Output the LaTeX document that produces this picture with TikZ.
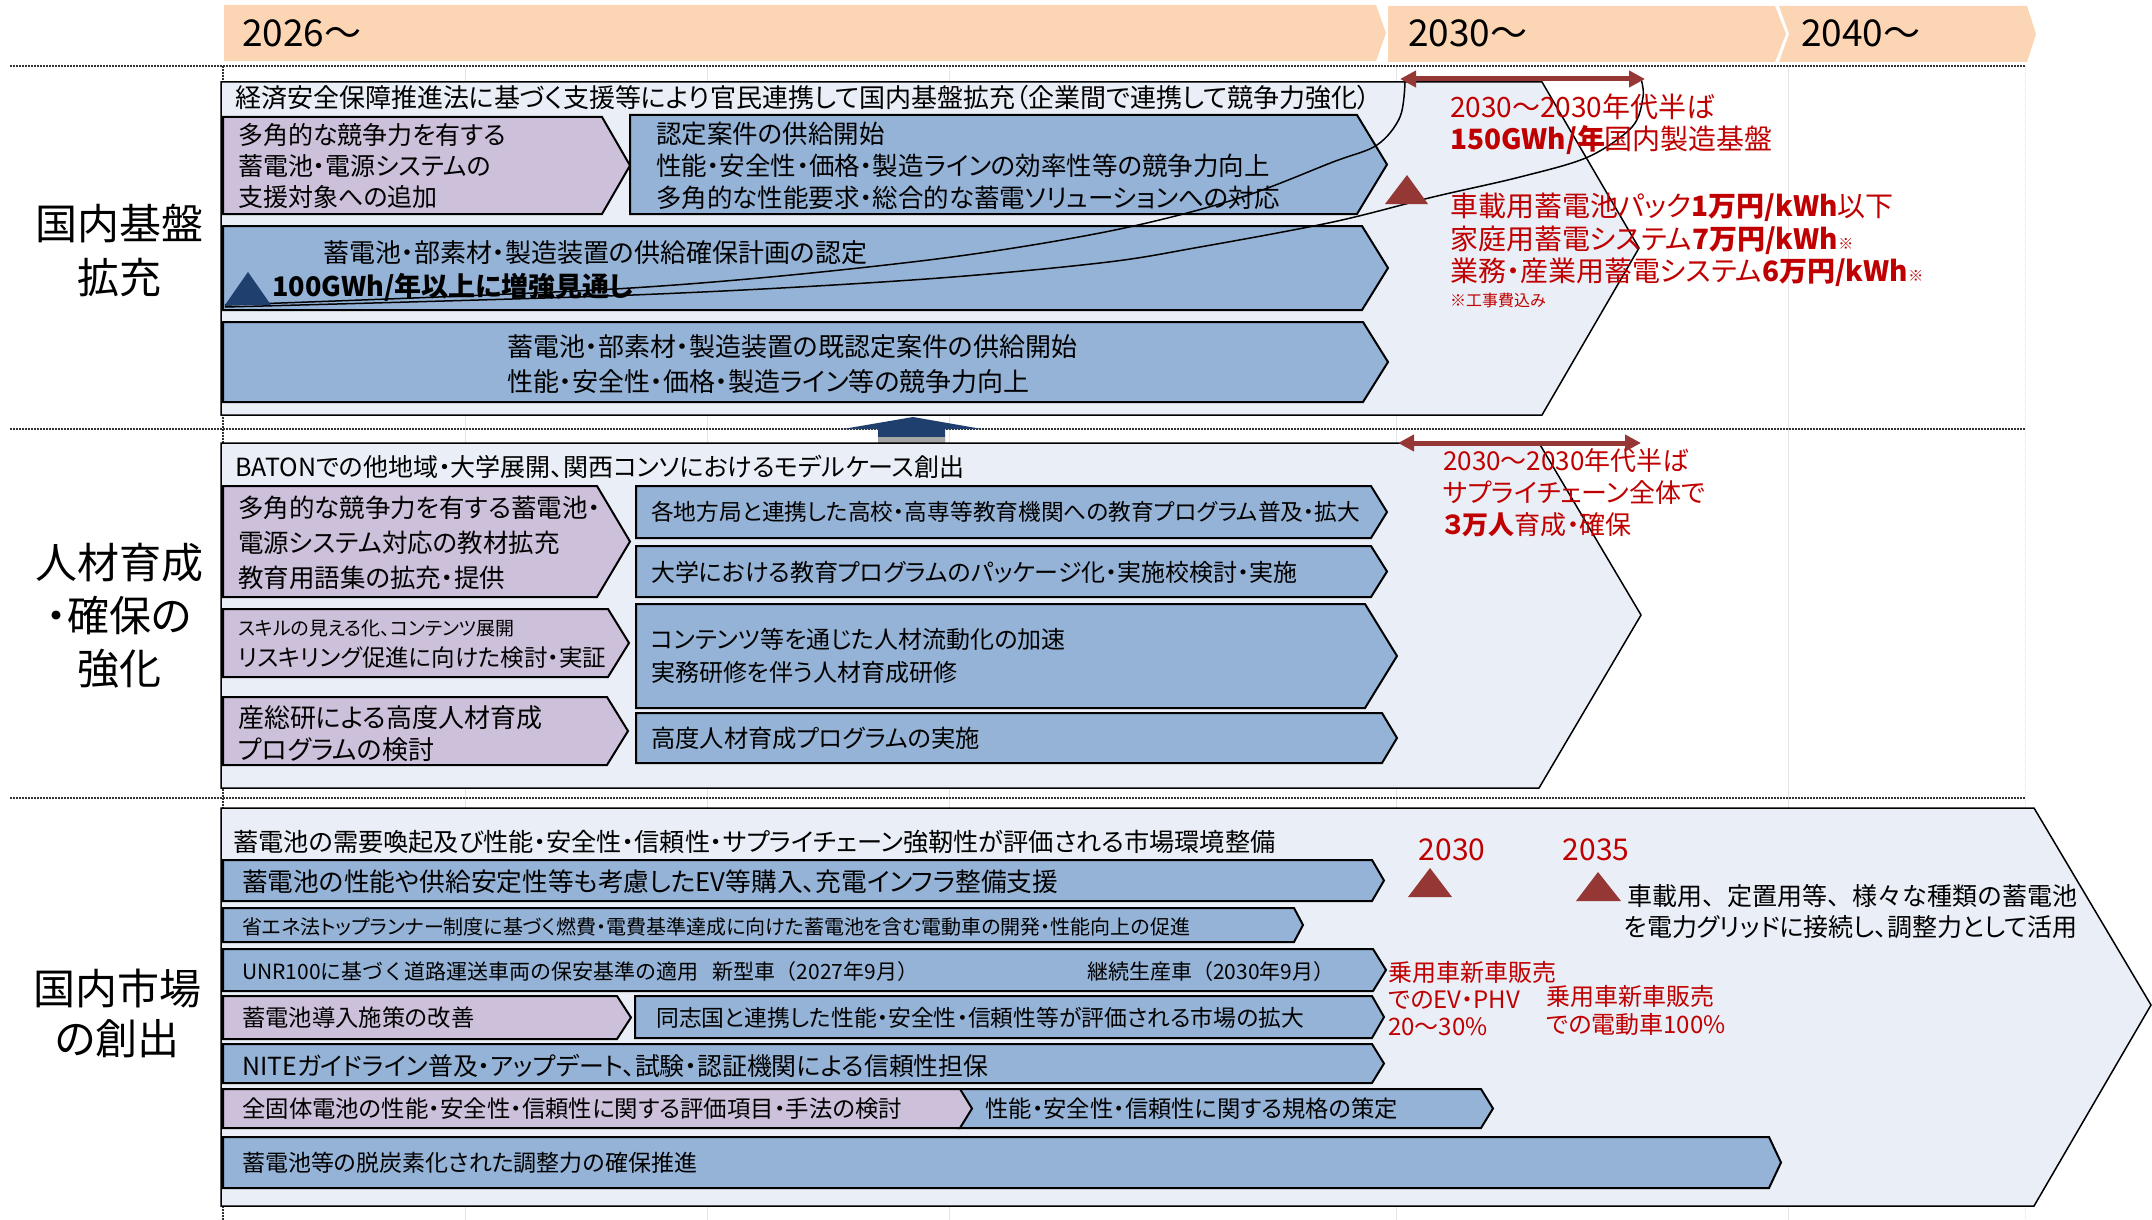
\documentclass[tikz,border=0pt]{standalone}
\usepackage{fontspec}
\setmainfont{Noto Sans CJK JP}[RawFeature=+palt]
\newfontfamily\jpfull{Noto Sans CJK JP}
\usetikzlibrary{arrows.meta}

\definecolor{peach}{HTML}{FCD5B4}
\definecolor{secbg}{HTML}{EAEFF7}
\definecolor{boxblue}{HTML}{95B3D7}
\definecolor{boxpurple}{HTML}{CCC0DA}
\definecolor{navy}{HTML}{1F3F6E}
\definecolor{darkred}{HTML}{953735}
\definecolor{txtred}{HTML}{C00000}
\definecolor{gridgray}{HTML}{E3E3E3}

\newcommand{\fsz}[2]{\fontsize{#1}{#2}\selectfont}
% chevron box: style, x1, y1, x2 (body end), y2, depth
\newcommand{\chevbox}[6]{\draw[#1] (#2,#3) -- (#4,#3) -- ({#4+#6},{(#3+#5)/2}) -- (#4,#5) -- (#2,#5) -- cycle;}

\tikzset{
  sect/.style={fill=secbg,draw=black,line width=1.5pt,line join=miter},
  blbox/.style={fill=boxblue,draw=black,line width=2pt},
  plbox/.style={fill=boxpurple,draw=black,line width=2pt},
  hdbar/.style={fill=peach,draw=none},
  txt/.style={inner sep=0pt,anchor=west,align=left},
  redtxt/.style={txt,text=txtred},
  redarr/.style={draw=darkred,line width=5pt,{Triangle[length=16pt,width=16pt]}-{Triangle[length=16pt,width=16pt]}},
  redtri/.style={fill=darkred,draw=none},
  sepline/.style={densely dotted,line width=2pt,black!80}
}

\begin{document}
\begin{tikzpicture}[x=1pt,y=-1pt]
\useasboundingbox (0,0) rectangle (2152,1220);

% grid
\foreach \x in {465,707,949,1396,1788} {
  \draw[gridgray,line width=1pt] (\x,66) -- (\x,1220);
}
\draw[gridgray,densely dotted,line width=1pt] (2025,66) -- (2025,1220);
\draw[sepline] (223,66) -- (223,1220);

% header bars
\draw[hdbar] (224,5) -- (1376,5) -- (1386,33) -- (1376,61) -- (224,61) -- cycle;
\draw[hdbar] (1388,6) -- (1775,6) -- (1786,34) -- (1775,62) -- (1388,62) -- cycle;
\draw[hdbar] (1779,6) -- (2027,6) -- (2036,34) -- (2027,62) -- (1779,62) -- (1789,34) -- cycle;
\node[txt,font=\fsz{37}{40}] (yr26) at (242,33) {2026～};
\node[txt,font=\fsz{37}{40}] (yr30) at (1408,33) {2030～};
\node[txt,font=\fsz{37}{40}] (yr40) at (1801,33) {2040～};

\foreach \y in {66,429,798} {
  \draw[sepline] (10,\y) -- (2025,\y);
}

% row labels
\node[font=\fsz{42}{54},align=center] (labA) at (119,250) {国内基盤\\拡充};
\node[font=\fsz{42}{53},align=center] (labB) at (119,616) {人材育成\\・確保の\\強化};
\node[font=\fsz{42}{50},align=center] (labC) at (117,1013) {国内市場\\の創出};

% ---- section 1
\draw[sect] (221,82) -- (1542,82) -- (1639,248) -- (1542,415) -- (221,415) -- cycle;
\chevbox{plbox}{223}{117}{602}{214}{28}
\chevbox{blbox}{630}{115}{1357}{214}{30}
\chevbox{blbox}{223}{226}{1362}{310}{26}
\chevbox{blbox}{223}{322}{1363}{402}{25}
\node[txt,font=\fsz{26}{30}] (s1head) at (235,98) {経済安全保障推進法に基づく支援等により官民連携して国内基盤拡充（企業間で連携して競争力強化）};
\node[txt,font=\fsz{25}{31}] (s1p) at (238,166) {多角的な競争力を有する\\蓄電池・電源システムの\\支援対象への追加};
\node[txt,font=\fsz{25.5}{32}] (s1b) at (656,166) {認定案件の供給開始\\性能・安全性・価格・製造ラインの効率性等の競争力向上\\多角的な性能要求・総合的な蓄電ソリューションへの対応};
\node[txt,font=\fsz{26}{30}] (s1r2) at (323,253) {蓄電池・部素材・製造装置の供給確保計画の認定};
\node[txt,font=\fsz{27}{30}\bfseries] (s1gw) at (272,287) {100GWh/年以上に増強見通し};
\node[txt,font=\fsz{26}{35}] (s1r3) at (507,364) {蓄電池・部素材・製造装置の既認定案件の供給開始\\性能・安全性・価格・製造ライン等の競争力向上};

\draw[black,line width=1.5pt] plot[smooth,tension=0.55] coordinates {(225,305) (631,288) (912,262) (1100,233) (1233,200) (1333,162) (1377,145) (1400,117) (1405,82)};
\draw[black,line width=1.5pt] plot[smooth,tension=0.55] coordinates {(225,307) (633,295) (912,280) (1100,263) (1200,247) (1333,222) (1433,197) (1520,177) (1588,157) (1632,127) (1643,97) (1641,79)};
\fill[navy] (225,305) -- (248,272) -- (271,305) -- cycle;
\fill[redtri] (1385,204) -- (1407,175) -- (1428,204) -- cycle;

\coordinate (arrA1) at (1400,79);
\coordinate (arrA2) at (1645,79);
\draw[redarr] (arrA1) -- (arrA2);
\node[redtxt,font=\fsz{28}{30}] (tgA1) at (1450,107) {2030～2030年代半ば};
\node[redtxt,font=\fsz{28}{30}] (tgA2) at (1450,140) {{\bfseries 150GWh/年}国内製造基盤};
\node[redtxt,font=\fsz{28}{30}] (tgA3) at (1450,207) {車載用蓄電池パック{\bfseries 1万円/kWh}以下};
\node[redtxt,font=\fsz{28}{30}] (tgA4) at (1450,240) {家庭用蓄電システム{\bfseries 7万円/kWh}{\fsz{15}{15}※}};
\node[redtxt,font=\fsz{28}{30}] (tgA5) at (1450,272) {業務・産業用蓄電システム{\bfseries 6万円/kWh}{\fsz{15}{15}※}};
\node[redtxt,font=\fsz{16}{18}] (tgA6) at (1450,300) {※工事費込み};

% up arrow between sections
\fill[navy] (878,443) -- (878,429) -- (843,429) -- (913,417) -- (982,429) -- (945,429) -- (945,443) -- cycle;
\fill[black!35] (878,437) rectangle (945,443);

% ---- section 2
\draw[sect] (221,443) -- (1539,443) -- (1641,615) -- (1539,788) -- (221,788) -- cycle;
\chevbox{plbox}{223}{486}{597}{597}{33}
\chevbox{plbox}{223}{609}{608}{677}{21}
\chevbox{plbox}{223}{697}{607}{765}{21}
\chevbox{blbox}{636}{486}{1371}{538}{16}
\chevbox{blbox}{636}{546}{1371}{597}{16}
\chevbox{blbox}{636}{604}{1365}{708}{32}
\chevbox{blbox}{636}{713}{1382}{763}{15}
\node[txt,font=\fsz{25}{30}] (s2head) at (235,467) {BATONでの他地域・大学展開、関西コンソにおけるモデルケース創出};
\node[txt,font=\fsz{25.5}{35}] (s2p1) at (238,543) {多角的な競争力を有する蓄電池・\\電源システム対応の教材拡充\\教育用語集の拡充・提供};
\node[txt,font=\fsz{19}{21}] (s2p2a) at (238,628) {スキルの見える化、コンテンツ展開};
\node[txt,font=\fsz{23.5}{26}] (s2p2b) at (238,658) {リスキリング促進に向けた検討・実証};
\node[txt,font=\fsz{26}{32}] (s2p3) at (238,734) {産総研による高度人材育成\\プログラムの検討};
\node[txt,font=\fsz{22.7}{26}] (s2b1) at (651,512) {各地方局と連携した高校・高専等教育機関への教育プログラム普及・拡大};
\node[txt,font=\fsz{24}{26}] (s2b2) at (651,572) {大学における教育プログラムのパッケージ化・実施校検討・実施};
\node[txt,font=\fsz{24}{33}] (s2b3) at (651,656) {コンテンツ等を通じた人材流動化の加速\\実務研修を伴う人材育成研修};
\node[txt,font=\fsz{24.3}{28}] (s2b4) at (651,738) {高度人材育成プログラムの実施};

\coordinate (arrB1) at (1398,443);
\coordinate (arrB2) at (1641,443);
\draw[redarr] (arrB1) -- (arrB2);
\node[redtxt,font=\fsz{26}{32}] (tgB) at (1443,493) {2030～2030年代半ば\\サプライチェーン全体で\\{\bfseries ３万人}育成・確保};

% ---- section 3
\draw[sect] (221,808) -- (2034,808) -- (2151,1005) -- (2034,1206) -- (221,1206) -- cycle;
\chevbox{blbox}{223}{860}{1372}{901}{12}
\chevbox{blbox}{223}{908}{1294}{942}{9}
\chevbox{blbox}{223}{949}{1373}{991}{13}
\chevbox{plbox}{223}{996}{617}{1039}{14}
\chevbox{blbox}{635}{996}{1372}{1038}{12}
\chevbox{blbox}{223}{1044}{1372}{1083}{12}
\chevbox{blbox}{958}{1089}{1481}{1128}{12}
\chevbox{plbox}{223}{1089}{960}{1128}{12}
\chevbox{blbox}{223}{1137}{1769}{1188}{12}
\node[txt,font=\fsz{25.2}{28}] (s3head) at (233,842) {蓄電池の需要喚起及び性能・安全性・信頼性・サプライチェーン強靭性が評価される市場環境整備};
\node[txt,font=\fsz{25.7}{28}] (s3r1) at (242,882) {蓄電池の性能や供給安定性等も考慮したEV等購入、充電インフラ整備支援};
\node[txt,font=\fsz{20}{22}] (s3r2) at (242,927) {省エネ法トップランナー制度に基づく燃費・電費基準達成に向けた蓄電池を含む電動車の開発・性能向上の促進};
\node[txt,font=\fsz{21}{24}\jpfull] (s3r3) at (242,972) {UNR100に基づく道路運送車両の保安基準の適用\ \ \ 新型車（2027年9月）};
\node[txt,font=\fsz{21}{24}\jpfull] (s3r3b) at (1087,972) {継続生産車（2030年9月）};
\node[txt,font=\fsz{23.3}{26}] (s3r4a) at (242,1018) {蓄電池導入施策の改善};
\node[txt,font=\fsz{22.8}{26}] (s3r4b) at (656,1018) {同志国と連携した性能・安全性・信頼性等が評価される市場の拡大};
\node[txt,font=\fsz{24.9}{28}] (s3r5) at (242,1066) {NITEガイドライン普及・アップデート、試験・認証機関による信頼性担保};
\node[txt,font=\fsz{23.4}{26}] (s3r6a) at (242,1109) {全固体電池の性能・安全性・信頼性に関する評価項目・手法の検討};
\node[txt,font=\fsz{23.3}{26}] (s3r6b) at (985,1109) {性能・安全性・信頼性に関する規格の策定};
\node[txt,font=\fsz{23}{26}] (s3r7) at (242,1163) {蓄電池等の脱炭素化された調整力の確保推進};

\node[text=txtred,font=\fsz{30}{32},inner sep=0pt] (yrC1) at (1452,850) {2030};
\node[text=txtred,font=\fsz{30}{32},inner sep=0pt] (yrC2) at (1596,850) {2035};
\fill[redtri] (1408,897) -- (1430,868) -- (1452,897) -- cycle;
\fill[redtri] (1576,901) -- (1598,872) -- (1621,901) -- cycle;
\node[inner sep=0pt,anchor=east,align=right,font=\fsz{25}{31}] (gridtx) at (2078,912) {{\jpfull 車載用、定置用等、様々な種類の蓄電池}\\を電力グリッドに接続し、調整力として活用};
\node[redtxt,font=\fsz{24}{27}] (evA) at (1388,999) {乗用車新車販売\\でのEV・PHV\\20～30\%};
\node[redtxt,font=\fsz{24}{28}] (evB) at (1546,1010) {乗用車新車販売\\での電動車100\%};
\end{tikzpicture}
\end{document}
